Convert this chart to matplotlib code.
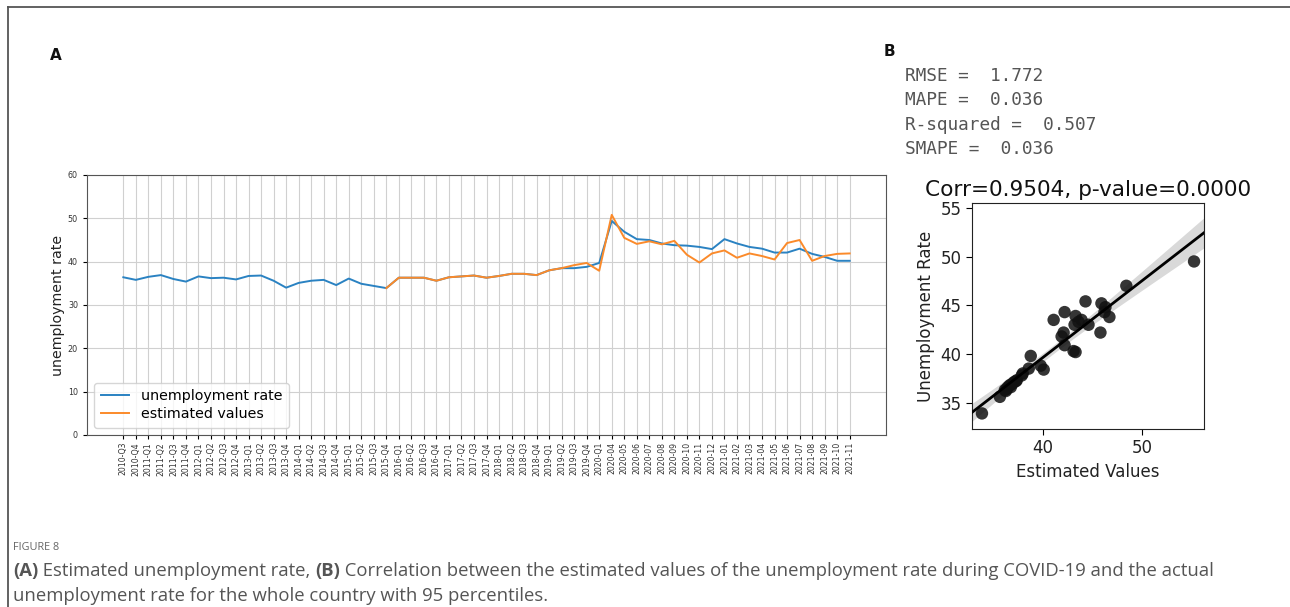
import numpy as np
import matplotlib
matplotlib.use("Agg")
import matplotlib.pyplot as plt
from matplotlib.lines import Line2D

# ---- data -------------------------------------------------------------
periods = (
    ["2010-Q3", "2010-Q4"]
    + [f"{y}-Q{q}" for y in range(2011, 2020) for q in range(1, 5)]
    + ["2020-Q1"]
    + [f"2020-{m:02d}" for m in range(4, 13)]
    + [f"2021-{m:02d}" for m in range(1, 12)]
)

unemployment = [
    36.4, 35.8, 36.5, 36.9, 36.0, 35.4, 36.6, 36.2, 36.3, 35.9,
    36.7, 36.8, 35.6, 34.0, 35.1, 35.6, 35.8, 34.6, 36.1, 34.9,
    34.4, 33.9, 36.3, 36.3, 36.3, 35.6, 36.4, 36.6, 36.8, 36.3,
    36.7, 37.2, 37.2, 36.9, 38.0, 38.5, 38.5, 38.8, 39.7, 49.4,
    46.9, 45.2, 45.0, 44.2, 43.8, 43.7, 43.4, 42.9, 45.2, 44.2,
    43.4, 43.0, 42.1, 42.1, 43.0, 41.8, 41.1, 40.2, 40.2,
]

# model output starts at 2015-Q4
estimate_start = 21
estimated = [
    33.9, 36.3, 36.3, 36.3, 35.6, 36.4, 36.6, 36.8, 36.3,
    36.7, 37.2, 37.2, 36.9, 38.0, 38.5, 39.2, 39.7, 37.9, 50.8,
    45.5, 44.1, 44.7, 44.0, 44.8, 41.6, 39.8, 41.9, 42.6, 40.9,
    41.9, 41.3, 40.5, 44.3, 45.0, 40.2, 41.3, 41.8, 41.9,
]

# correlation panel: estimated value vs. observed rate
corr_estimated = [
    33.9, 35.7, 36.2, 36.4, 36.5, 36.7, 36.9, 37.1, 37.3, 37.4,
    36.3, 36.8, 38.0, 38.6, 38.8, 39.8, 40.1, 41.1, 42.2, 42.1,
    41.9, 42.2, 43.1, 43.3, 43.3, 43.2, 43.9, 43.6, 44.3, 44.6,
    45.9, 45.8, 46.3, 46.2, 46.7, 48.4, 55.2, 37.9,
]
corr_observed = [
    33.9, 35.6, 36.3, 36.4, 36.6, 36.8, 36.9, 37.1, 37.2, 37.3,
    36.2, 36.6, 38.0, 38.5, 39.8, 38.8, 38.4, 43.5, 44.3, 42.2,
    41.8, 40.9, 40.3, 40.2, 43.9, 43.0, 43.5, 43.3, 45.4, 43.0,
    45.2, 42.2, 44.8, 44.3, 43.8, 47.0, 49.5, 37.8,
]

metric_names = ["RMSE", "MAPE", "R-squared", "SMAPE"]
metric_values = ["1.772", "0.036", "0.507", "0.036"]
corr_title = "Corr=0.9504, p-value=0.0000"

# ---- figure -----------------------------------------------------------
W, H = 1290, 607
fig = plt.figure(figsize=(W / 100, H / 100), dpi=100)
fig.patch.set_facecolor("white")

def fx(px):
    return px / W

def fy(py):
    return 1 - py / H

# outer frame (top and left rules)
fig.add_artist(Line2D([fx(8), 1.0], [fy(7), fy(7)], color="#555555", lw=1.3,
                      transform=fig.transFigure))
fig.add_artist(Line2D([fx(8), fx(8)], [fy(7), 0.0], color="#555555", lw=1.3,
                      transform=fig.transFigure))

# ---- panel A: time series --------------------------------------------
axA = fig.add_axes([fx(87), fy(435), fx(886) - fx(87), fy(175) - fy(435)])
x = np.arange(len(periods))
axA.plot(x, unemployment, color="#2a82c2", lw=1.4, label="unemployment rate")
axA.plot(x[estimate_start:estimate_start + len(estimated)], estimated,
         color="#fb8a2a", lw=1.4, label="estimated values")
axA.set_ylim(0, 60)
axA.set_yticks(range(0, 61, 10))
axA.set_xticks(x)
axA.set_xticklabels(periods, rotation=90, fontsize=5.6, color="#333333")
axA.tick_params(axis="y", labelsize=5.8, labelcolor="#333333", length=3)
axA.tick_params(axis="x", length=3, pad=2)
axA.grid(True, color="#d0d0d0", lw=0.8)
axA.set_axisbelow(True)
for s in axA.spines.values():
    s.set_color("#555555")
axA.set_ylabel("unemployment rate", fontsize=10.2, color="#222222", labelpad=2)
leg = axA.legend(loc="lower left", fontsize=10.3, frameon=True,
                 handlelength=2.0, borderpad=0.45, labelspacing=0.3)
leg.get_frame().set_edgecolor("#cccccc")

fig.text(fx(50), fy(55), "A", fontsize=11, fontweight="bold",
         ha="left", va="center", color="#111111")
fig.text(fx(884), fy(52), "B", fontsize=11, fontweight="bold",
         ha="left", va="center", color="#111111")

# metric summary
for i, (name, val) in enumerate(zip(metric_names, metric_values)):
    fig.text(fx(905), fy(76 + i * 24.5), f"{name} =  {val}",
             family="DejaVu Sans Mono", fontsize=12.8, color="#555555",
             ha="left", va="center")

# ---- panel B: correlation scatter ------------------------------------
axB = fig.add_axes([fx(972), fy(429), fx(1204) - fx(972), fy(203) - fy(429)])
xe = np.asarray(corr_estimated)
yo = np.asarray(corr_observed)
axB.scatter(xe, yo, s=80, color="#111111", alpha=0.85, edgecolors="none",
            zorder=3)

xlim = (32.9, 56.2)
xs = np.linspace(xlim[0], xlim[1], 200)
n = len(xe)
slope, intercept = np.polyfit(xe, yo, 1)
fit = intercept + slope * xs
resid = yo - (intercept + slope * xe)
s_err = np.sqrt(np.sum(resid ** 2) / (n - 2))
se = s_err * np.sqrt(1 / n + (xs - xe.mean()) ** 2 / np.sum((xe - xe.mean()) ** 2))
t_crit = 2.2
axB.fill_between(xs, fit - t_crit * se, fit + t_crit * se, color="black",
                 alpha=0.15, lw=0, zorder=2)
axB.plot(xs, fit, color="black", lw=2, zorder=4)

axB.set_xlim(*xlim)
axB.set_ylim(32.3, 55.5)
axB.set_xticks([40, 50])
axB.set_yticks([35, 40, 45, 50, 55])
axB.tick_params(labelsize=12, labelcolor="#222222", length=4)
for s in axB.spines.values():
    s.set_color("#222222")
axB.set_xlabel("Estimated Values", fontsize=12, color="#222222")
axB.set_ylabel("Unemployment Rate", fontsize=12, color="#222222")
axB.set_title(corr_title, fontsize=15.6, color="#111111", pad=5)

# ---- caption ----------------------------------------------------------
cap_font = "Open Sans"
fig.text(fx(13), fy(547), "FIGURE 8", family=cap_font, fontsize=7.8,
         color="#666666", ha="left", va="center")

renderer = fig.canvas.get_renderer()

def run_text(x_px, y_px, parts):
    """Draw consecutive text pieces with individual weights on one line."""
    cur = x_px
    for txt, weight in parts:
        t = fig.text(fx(cur), fy(y_px), txt, family=cap_font, fontsize=13.3,
                     fontweight=weight, color="#555555", ha="left", va="center")
        bb = t.get_window_extent(renderer=renderer)
        cur += bb.width

run_text(13, 571, [
    ("(A)", "bold"),
    (" Estimated unemployment rate, ", "normal"),
    ("(B)", "bold"),
    (" Correlation between the estimated values of the unemployment rate "
     "during COVID-19 and the actual", "normal"),
])
run_text(13, 596, [
    ("unemployment rate for the whole country with 95 percentiles.", "normal"),
])

fig.savefig("out.png", dpi=100, facecolor="white")
